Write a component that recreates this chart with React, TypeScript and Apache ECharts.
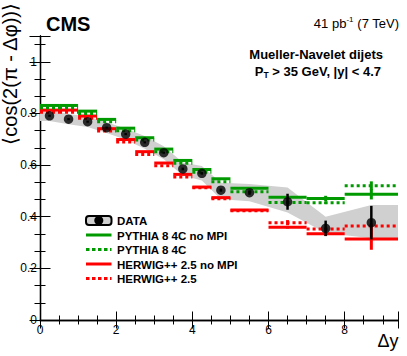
import React, { useEffect, useRef } from "react";
import * as echarts from "echarts";

// ---- Data ----
const binLow = [0, 0.5, 1.0, 1.5, 2.0, 2.5, 3.0, 3.5, 4.0, 4.5, 5.0, 6.0, 7.0, 8.0];
const binHigh = [0.5, 1.0, 1.5, 2.0, 2.5, 3.0, 3.5, 4.0, 4.5, 5.0, 6.0, 7.0, 8.0, 9.4];
const dataX = [0.25, 0.75, 1.25, 1.75, 2.25, 2.75, 3.25, 3.75, 4.25, 4.75, 5.5, 6.5, 7.5, 8.7];
const dataY = [0.791, 0.778, 0.768, 0.745, 0.72, 0.688, 0.648, 0.585, 0.568, 0.503, 0.493, 0.458, 0.355, 0.377];
const dataErr = [0.004, 0.004, 0.004, 0.004, 0.004, 0.004, 0.004, 0.005, 0.005, 0.006, 0.008, 0.031, 0.03, 0.065];

const bandX = [0, 0.25, 0.75, 1.25, 1.75, 2.25, 2.75, 3.25, 3.75, 4.25, 4.75, 5.5, 6.5, 7.5, 8.7, 9.4];
const bandLow = [0.771, 0.771, 0.758, 0.748, 0.724, 0.698, 0.663, 0.623, 0.56, 0.54, 0.468, 0.46, 0.416, 0.337, 0.317, 0.317];
const bandHigh = [0.811, 0.811, 0.798, 0.788, 0.766, 0.742, 0.713, 0.673, 0.61, 0.596, 0.532, 0.527, 0.513, 0.4, 0.445, 0.445];

const pythiaNoMPI = [0.831, 0.831, 0.809, 0.777, 0.743, 0.706, 0.662, 0.618, 0.583, 0.547, 0.51, 0.475, 0.471, 0.487];
const pythiaNoMPIErr = [0, 0, 0, 0, 0, 0, 0, 0, 0, 0, 0, 0.004, 0.01, 0.02];
const pythia4C = [0.822, 0.822, 0.8, 0.768, 0.733, 0.697, 0.652, 0.607, 0.572, 0.535, 0.497, 0.455, 0.454, 0.52];
const pythia4CErr = [0, 0, 0, 0, 0, 0, 0, 0, 0, 0, 0, 0.005, 0.005, 0.017];
const herwigNoMPI = [0.813, 0.813, 0.79, 0.741, 0.699, 0.652, 0.608, 0.564, 0.515, 0.474, 0.426, 0.359, 0.334, 0.314];
const herwigNoMPIErr = [0, 0, 0, 0, 0, 0, 0, 0, 0, 0, 0, 0.005, 0.008, 0.042];
const herwig25 = [0.805, 0.805, 0.781, 0.732, 0.689, 0.641, 0.597, 0.554, 0.512, 0.47, 0.423, 0.377, 0.352, 0.364];
const herwig25Err = [0, 0, 0, 0, 0, 0, 0, 0, 0, 0, 0, 0.01, 0.006, 0.01];

const xTicks = [0, 2, 4, 6, 8];
const yTicks = [0, 0.2, 0.4, 0.6, 0.8, 1];

const legendNames = ["DATA", "PYTHIA 8 4C no MPI", "PYTHIA 8 4C", "HERWIG++ 2.5 no MPI", "HERWIG++ 2.5"];

const GREEN = "#009a00";
const RED = "#ff0000";
const BAND = "#d0d0d0";
const FONT = '"Liberation Sans", Arial, Helvetica, sans-serif';

function stepSeries(name: string, values: number[], errs: number[], color: string, dashed: boolean, z: number) {
  return {
    type: "custom",
    name,
    z,
    data: values.map((v, i) => [binLow[i], binHigh[i], v, errs[i], dataX[i]]),
    encode: { x: [0, 1], y: 2 },
    renderItem: (params: any, api: any) => {
      const lo = api.value(0);
      const hi = api.value(1);
      const v = api.value(2);
      const e = api.value(3);
      const cx = api.value(4);
      const p1 = api.coord([lo, v]);
      const p2 = api.coord([hi, v]);
      const children: any[] = [
        {
          type: "line",
          shape: { x1: p1[0], y1: p1[1], x2: p2[0], y2: p2[1] },
          style: { stroke: color, lineWidth: 3, lineDash: dashed ? [3, 3] : null, lineCap: "butt" },
        },
      ];
      if (e > 0) {
        const a = api.coord([cx, v - e]);
        const b = api.coord([cx, v + e]);
        children.push({
          type: "line",
          shape: { x1: a[0], y1: a[1], x2: b[0], y2: b[1] },
          style: { stroke: color, lineWidth: 3 },
        });
      }
      return { type: "group", children };
    },
  };
}

export default function App() {
  const ref = useRef<HTMLDivElement>(null);
  useEffect(() => {
    if (!ref.current) return;
    const chart = echarts.init(ref.current, null, { renderer: "svg" });

    const axisLine = { show: true, lineStyle: { color: "#000", width: 1.3 } };
    const xTick = { show: true, inside: true, length: 8.5, lineStyle: { color: "#000", width: 1 } };
    const xMinor = { show: true, splitNumber: 4, length: 4.5, lineStyle: { color: "#000", width: 1 } };
    const yTick = { show: true, inside: true, length: 10.5, lineStyle: { color: "#000", width: 1 } };
    const yMinor = { show: true, splitNumber: 3, length: 5.5, lineStyle: { color: "#000", width: 1 } };

    const xLabel = {
      show: true,
      color: "#000",
      fontSize: 12,
      fontFamily: FONT,
      margin: 4,
      formatter: (v: number) => (xTicks.some((t) => Math.abs(t - v) < 1e-6) ? String(Math.round(v)) : ""),
    };
    const yLabel = {
      show: true,
      color: "#000",
      fontSize: 12,
      fontFamily: FONT,
      margin: 3,
      formatter: (v: number) => (yTicks.some((t) => Math.abs(t - v) < 1e-6) ? String(Math.round(v * 10) / 10) : ""),
    };

    const legendY = [220.5, 235, 249.5, 264, 278.5];
    const legendStyles = [
      null,
      { color: GREEN, dashed: false },
      { color: GREEN, dashed: true },
      { color: RED, dashed: false },
      { color: RED, dashed: true },
    ];
    const legendGraphics: any[] = [];
    legendNames.forEach((name, i) => {
      const y = legendY[i];
      if (i === 0) {
        legendGraphics.push({
          type: "rect",
          shape: { x: 86, y: y - 4.5, width: 25.5, height: 9, r: 3 },
          style: { fill: BAND, stroke: "#000", lineWidth: 2 },
          z: 10,
        });
        legendGraphics.push({
          type: "circle",
          shape: { cx: 98.8, cy: y, r: 4.5 },
          style: { fill: "#000" },
          z: 11,
        });
      } else {
        const s = legendStyles[i]!;
        legendGraphics.push({
          type: "line",
          shape: { x1: 86, y1: y, x2: 111.5, y2: y },
          style: { stroke: s.color, lineWidth: 3, lineDash: s.dashed ? [3.5, 2.5] : null },
          z: 10,
        });
      }
      legendGraphics.push({
        type: "text",
        x: 117,
        y: y + 0.5,
        style: {
          text: name,
          fill: "#000",
          fontSize: 11.5,
          fontWeight: "bold",
          fontFamily: FONT,
          align: "left",
          verticalAlign: "middle",
        },
        z: 10,
      });
    });

    const option: any = {
      animation: false,
      backgroundColor: "#fff",
      grid: { left: 40, top: 36, right: 9, bottom: 36, containLabel: false, outerBoundsMode: "none" },
      xAxis: [
        {
          type: "value",
          position: "bottom",
          min: 0,
          max: 9.4,
          interval: 2,
          axisLine,
          axisTick: xTick,
          minorTick: xMinor,
          splitLine: { show: false },
          minorSplitLine: { show: false },
          axisLabel: xLabel,
        },
        {
          type: "value",
          position: "top",
          min: 0,
          max: 9.4,
          interval: 2,
          axisLine,
          axisTick: xTick,
          minorTick: xMinor,
          splitLine: { show: false },
          axisLabel: { show: false },
        },
      ],
      yAxis: [
        {
          type: "value",
          position: "left",
          min: 0,
          max: 1.1,
          interval: 0.2,
          axisLine,
          axisTick: yTick,
          minorTick: yMinor,
          splitLine: { show: false },
          axisLabel: yLabel,
        },
        {
          type: "value",
          position: "right",
          min: 0,
          max: 1.1,
          interval: 0.2,
          axisLine,
          axisTick: yTick,
          minorTick: yMinor,
          splitLine: { show: false },
          axisLabel: { show: false },
        },
      ],
      series: [
        {
          type: "custom",
          name: "band",
          z: 1,
          data: [[bandX[0], bandLow[0]]],
          renderItem: (params: any, api: any) => {
            const pts: number[][] = [];
            for (let i = 0; i < bandX.length; i++) pts.push(api.coord([bandX[i], bandHigh[i]]));
            for (let i = bandX.length - 1; i >= 0; i--) pts.push(api.coord([bandX[i], bandLow[i]]));
            return { type: "polygon", shape: { points: pts }, style: { fill: BAND } };
          },
        },
        stepSeries("HERWIG++ 2.5", herwig25, herwig25Err, RED, true, 2),
        stepSeries("HERWIG++ 2.5 no MPI", herwigNoMPI, herwigNoMPIErr, RED, false, 2),
        stepSeries("PYTHIA 8 4C", pythia4C, pythia4CErr, GREEN, true, 2),
        stepSeries("PYTHIA 8 4C no MPI", pythiaNoMPI, pythiaNoMPIErr, GREEN, false, 2),
        {
          type: "custom",
          name: "DATA errors",
          z: 3,
          data: dataX.map((x, i) => [x, dataY[i], dataErr[i]]),
          renderItem: (params: any, api: any) => {
            const x = api.value(0);
            const y = api.value(1);
            const e = api.value(2);
            const a = api.coord([x, y - e]);
            const b = api.coord([x, y + e]);
            return {
              type: "line",
              shape: { x1: a[0], y1: a[1], x2: b[0], y2: b[1] },
              style: { stroke: "#000", lineWidth: 2.5 },
            };
          },
        },
        {
          type: "scatter",
          name: "DATA",
          z: 4,
          symbol: "circle",
          symbolSize: 9.5,
          itemStyle: { color: "#000" },
          data: dataX.map((x, i) => [x, dataY[i]]),
        },
      ],
      graphic: [
        {
          type: "text",
          x: 46,
          y: 23.5,
          style: { text: "CMS", fill: "#000", fontSize: 20, fontWeight: "bold", fontFamily: FONT, align: "left", verticalAlign: "middle" },
        },
        {
          type: "text",
          x: 399,
          y: 23.5,
          style: {
            text: "41 pb{sup|-1} (7 TeV)",
            fill: "#000",
            fontSize: 13,
            fontFamily: FONT,
            align: "right",
            verticalAlign: "middle",
            rich: { sup: { fontSize: 8, fontFamily: FONT, fill: "#000", padding: [0, 0, 8, 0] } },
          },
        },
        {
          type: "text",
          x: 383,
          y: 54.5,
          style: { text: "Mueller-Navelet dijets", fill: "#000", fontSize: 13, fontWeight: "bold", fontFamily: FONT, align: "right", verticalAlign: "middle" },
        },
        {
          type: "text",
          x: 381,
          y: 71.5,
          style: {
            text: "P{sub|T} > 35 GeV, |y| < 4.7",
            fill: "#000",
            fontSize: 13,
            fontWeight: "bold",
            fontFamily: FONT,
            align: "right",
            verticalAlign: "middle",
            rich: { sub: { fontSize: 8.5, fontWeight: "bold", fontFamily: FONT, fill: "#000", padding: [6, 0, 0, 0] } },
          },
        },
        {
          type: "text",
          x: 9.5,
          y: 3,
          rotation: Math.PI / 2,
          style: {
            text: "\u27E8cos(2(\u03C0 - \u0394\u03C6))\u27E9",
            fill: "#000",
            fontSize: 20,
            fontFamily: FONT,
            align: "right",
            verticalAlign: "middle",
          },
        },
        {
          type: "text",
          x: 398.5,
          y: 341,
          style: { text: "\u0394y", fill: "#000", fontSize: 18, fontFamily: FONT, align: "right", verticalAlign: "middle" },
        },
        ...legendGraphics,
      ],
    };

    chart.setOption(option);
    return () => chart.dispose();
  }, []);

  return <div ref={ref} style={{ position: "absolute", left: 0, top: 0, width: 407, height: 356 }} />;
}
